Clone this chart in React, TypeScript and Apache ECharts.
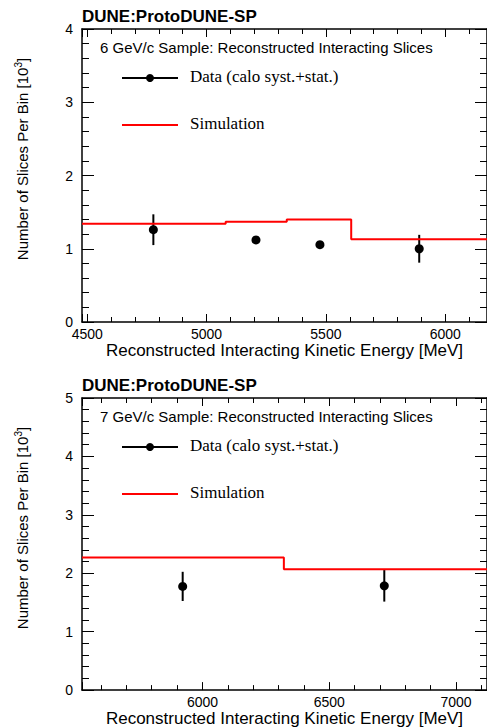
import React, { useEffect, useRef } from "react";
import * as echarts from "echarts";

// ---- Data ----
// Panel 1: 6 GeV/c sample
const TOP_X_RANGE = [4478, 6175];
const TOP_SIM_EDGES = [4478, 5080, 5336, 5606, 6175];
const TOP_SIM_VALUES = [1.34, 1.37, 1.4, 1.13];
const TOP_DATA_X = [4777, 5207, 5475, 5891];
const TOP_DATA_Y = [1.26, 1.12, 1.055, 1.0];
const TOP_DATA_ERR = [0.21, 0.03, 0.03, 0.19];
const TOP_Y_MAX = 4;

// Panel 2: 7 GeV/c sample
const BOT_X_RANGE = [5525, 7122];
const BOT_SIM_EDGES = [5525, 6321, 7122];
const BOT_SIM_VALUES = [2.27, 2.07];
const BOT_DATA_X = [5922, 6717];
const BOT_DATA_Y = [1.775, 1.785];
const BOT_DATA_ERR = [0.25, 0.27];
const BOT_Y_MAX = 5;

const TITLE = "DUNE:ProtoDUNE-SP";
const TOP_SAMPLE = "6 GeV/c Sample: Reconstructed Interacting Slices";
const BOT_SAMPLE = "7 GeV/c Sample: Reconstructed Interacting Slices";
const LEG_DATA = "Data (calo syst.+stat.)";
const LEG_SIM = "Simulation";
const X_NAME = "Reconstructed Interacting Kinetic Energy [MeV]";
const Y_NAME = "Number of Slices Per Bin [10{sup|3}]";

const SANS = "Liberation Sans";
const SERIF = "Liberation Serif";

function stepData(edges: number[], vals: number[]) {
  return edges.map((e, i) => [e, vals[Math.min(i, vals.length - 1)]]);
}

function points(xs: number[], ys: number[], es: number[]) {
  return xs.map((x, i) => [x, ys[i], es[i]]);
}

export default function App() {
  const ref = useRef<HTMLDivElement>(null);

  useEffect(() => {
    if (!ref.current) return;
    const chart = echarts.init(ref.current, undefined, { renderer: "svg" });

    const xAxisBase = (grid: number, range: number[], bottom: boolean) => ({
      type: "value",
      gridIndex: grid,
      position: bottom ? "bottom" : "top",
      min: range[0],
      max: range[1],
      minInterval: 500,
      maxInterval: 500,
      splitNumber: 3,
      axisLine: { show: true, onZero: false, lineStyle: { color: "#000", width: 1.5 } },
      axisTick: { show: true, inside: true, length: 8, lineStyle: { color: "#000", width: 1 } },
      minorTick: { show: true, splitNumber: 5, length: 5, lineStyle: { color: "#000", width: 1 } },
      splitLine: { show: false },
      axisLabel: bottom
        ? {
            show: true,
            showMinLabel: false,
            showMaxLabel: false,
            color: "#000",
            fontFamily: SANS,
            fontSize: 14,
            margin: 5,
            formatter: (v: number) => String(v),
          }
        : { show: false },
      name: bottom ? X_NAME : "",
      nameLocation: "middle",
      nameGap: 19,
      nameTextStyle: { color: "#000", fontFamily: SANS, fontSize: 17 },
    });

    const yAxisBase = (grid: number, max: number, left: boolean) => ({
      type: "value",
      gridIndex: grid,
      position: left ? "left" : "right",
      min: 0,
      max,
      interval: 1,
      axisLine: { show: true, onZero: false, lineStyle: { color: "#000", width: 1.5 } },
      axisTick: { show: true, inside: true, length: 12, lineStyle: { color: "#000", width: 1 } },
      minorTick: { show: true, splitNumber: 5, length: 7, lineStyle: { color: "#000", width: 1 } },
      splitLine: { show: false },
      axisLabel: left
        ? { show: true, color: "#000", fontFamily: SANS, fontSize: 14, margin: 9 }
        : { show: false },
    });

    const errRender = (params: any, api: any) => {
      const x = api.value(0);
      const y = api.value(1);
      const e = api.value(2);
      const p1 = api.coord([x, y - e]);
      const p2 = api.coord([x, y + e]);
      return {
        type: "line",
        shape: { x1: p1[0], y1: p1[1], x2: p2[0], y2: p2[1] },
        style: { stroke: "#000", lineWidth: 2 },
      };
    };

    const yName = (cy: number) => ({
      type: "text",
      x: 22,
      y: cy,
      rotation: Math.PI / 2,
      style: {
        text: Y_NAME,
        fill: "#000",
        font: `15px "${SANS}"`,
        align: "center",
        verticalAlign: "middle",
        rich: {
          sup: { font: `10px "${SANS}"`, fill: "#000", verticalAlign: "top", padding: [0, 0, 8, 0] },
        },
      },
    });

    const legend = (top0: number, sample: string) => [
      {
        type: "text",
        left: 100,
        top: top0 - 8,
        style: { text: sample, fill: "#000", font: `15px "${SANS}"` },
      },
      {
        type: "line",
        shape: { x1: 122, y1: top0 + 30, x2: 178, y2: top0 + 30 },
        style: { stroke: "#000", lineWidth: 2 },
      },
      {
        type: "circle",
        shape: { cx: 150, cy: top0 + 30, r: 4 },
        style: { fill: "#000" },
      },
      {
        type: "text",
        left: 190,
        top: top0 + 20,
        style: { text: LEG_DATA, fill: "#000", font: `17px "${SERIF}"` },
      },
      {
        type: "line",
        shape: { x1: 122, y1: top0 + 77, x2: 178, y2: top0 + 77 },
        style: { stroke: "#ff0000", lineWidth: 2 },
      },
      {
        type: "text",
        left: 190,
        top: top0 + 67,
        style: { text: LEG_SIM, fill: "#000", font: `17px "${SERIF}"` },
      },
    ];

    chart.setOption({
      animation: false,
      backgroundColor: "#fff",
      grid: [
        { left: 82, top: 29, width: 408, height: 293 },
        { left: 82, top: 398, width: 408, height: 294 },
      ],
      xAxis: [
        xAxisBase(0, TOP_X_RANGE, true),
        xAxisBase(0, TOP_X_RANGE, false),
        xAxisBase(1, BOT_X_RANGE, true),
        xAxisBase(1, BOT_X_RANGE, false),
      ],
      yAxis: [
        yAxisBase(0, TOP_Y_MAX, true),
        yAxisBase(0, TOP_Y_MAX, false),
        yAxisBase(1, BOT_Y_MAX, true),
        yAxisBase(1, BOT_Y_MAX, false),
      ],
      series: [
        {
          type: "line",
          xAxisIndex: 0,
          yAxisIndex: 0,
          step: "end",
          symbol: "none",
          data: stepData(TOP_SIM_EDGES, TOP_SIM_VALUES),
          lineStyle: { color: "#ff0000", width: 2 },
        },
        {
          type: "custom",
          xAxisIndex: 0,
          yAxisIndex: 0,
          renderItem: errRender,
          encode: { x: 0, y: 1 },
          data: points(TOP_DATA_X, TOP_DATA_Y, TOP_DATA_ERR),
        },
        {
          type: "scatter",
          xAxisIndex: 0,
          yAxisIndex: 0,
          symbolSize: 9,
          itemStyle: { color: "#000", opacity: 1 },
          data: points(TOP_DATA_X, TOP_DATA_Y, TOP_DATA_ERR),
        },
        {
          type: "line",
          xAxisIndex: 2,
          yAxisIndex: 2,
          step: "end",
          symbol: "none",
          data: stepData(BOT_SIM_EDGES, BOT_SIM_VALUES),
          lineStyle: { color: "#ff0000", width: 2 },
        },
        {
          type: "custom",
          xAxisIndex: 2,
          yAxisIndex: 2,
          renderItem: errRender,
          encode: { x: 0, y: 1 },
          data: points(BOT_DATA_X, BOT_DATA_Y, BOT_DATA_ERR),
        },
        {
          type: "scatter",
          xAxisIndex: 2,
          yAxisIndex: 2,
          symbolSize: 9,
          itemStyle: { color: "#000", opacity: 1 },
          data: points(BOT_DATA_X, BOT_DATA_Y, BOT_DATA_ERR),
        },
      ],
      graphic: [
        {
          type: "text",
          left: 82,
          top: 8,
          style: { text: TITLE, fill: "#000", font: `bold 17px "${SANS}"` },
        },
        {
          type: "text",
          left: 82,
          top: 377,
          style: { text: TITLE, fill: "#000", font: `bold 17px "${SANS}"` },
        },
        yName(159),
        yName(528),
        ...legend(48, TOP_SAMPLE),
        ...legend(417, BOT_SAMPLE),
      ],
    });

    return () => chart.dispose();
  }, []);

  return (
    <div
      ref={ref}
      style={{ position: "absolute", left: 0, top: 0, width: 487, height: 728, background: "#fff" }}
    />
  );
}
